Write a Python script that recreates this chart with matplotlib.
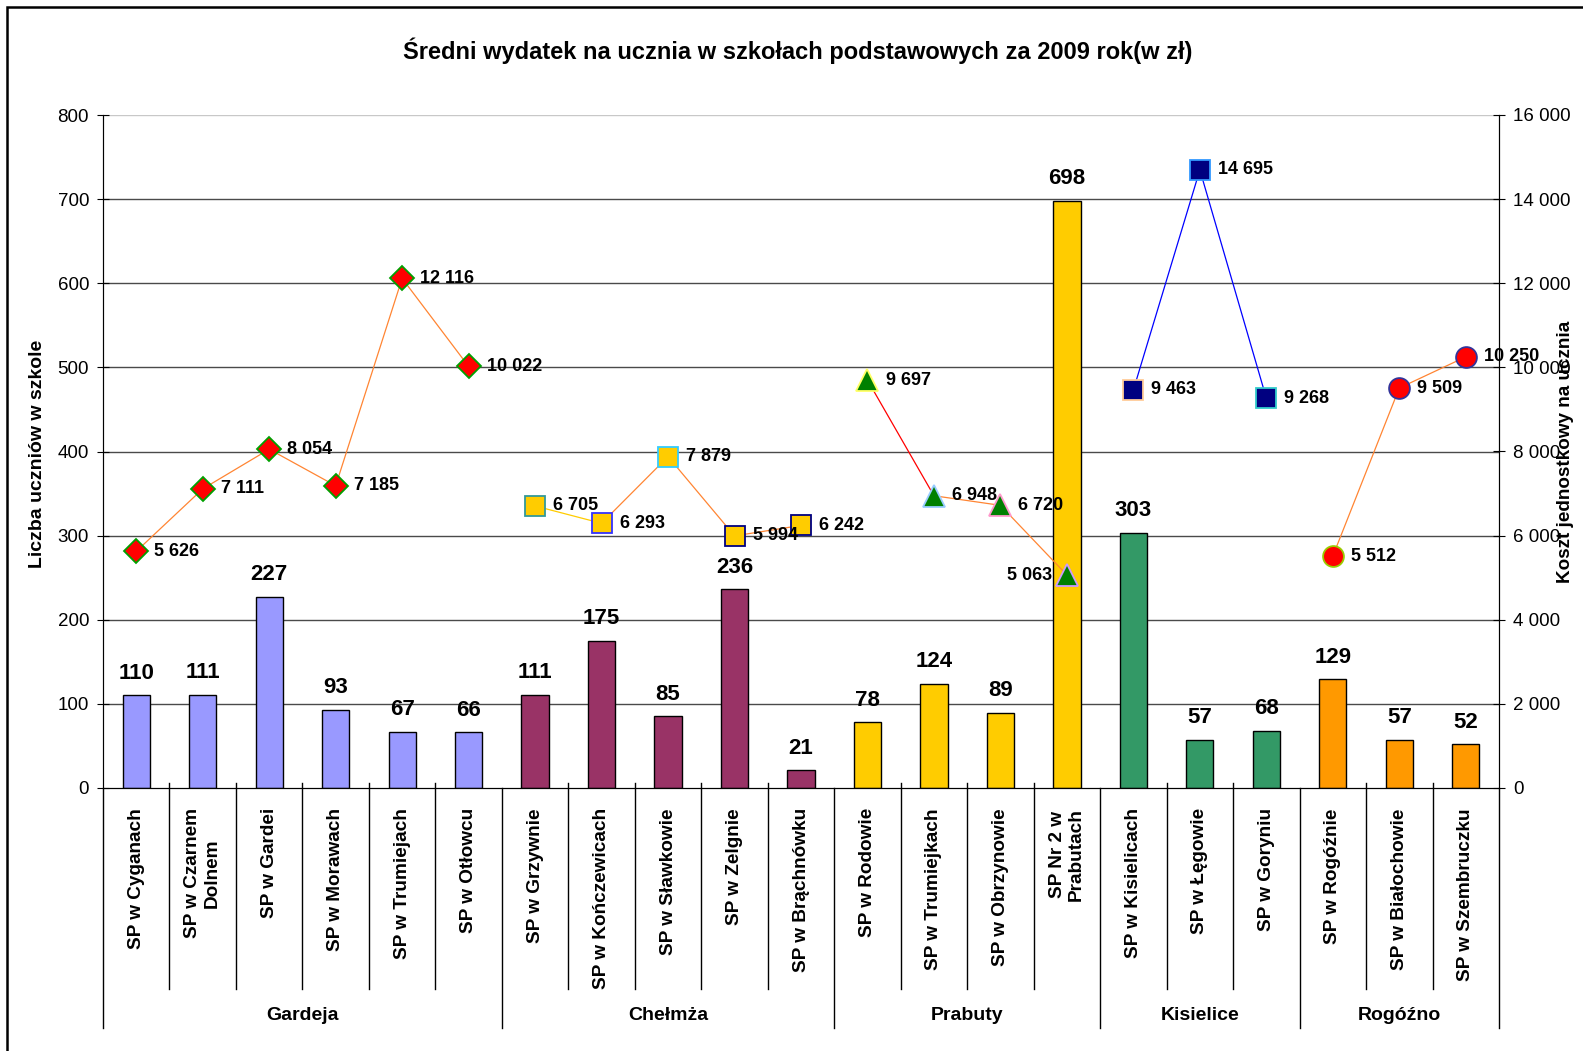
import matplotlib.pyplot as plt
from matplotlib.patches import Rectangle
from matplotlib.ticker import FuncFormatter
import matplotlib.transforms as mtransforms

plt.rcParams['font.family'] = ['Liberation Sans', 'DejaVu Sans']

# dane
schools = ['SP w Cyganach', 'SP w Czarnem\nDolnem', 'SP w Gardei', 'SP w Morawach', 'SP w Trumiejach',
           'SP w Otłowcu', 'SP w Grzywnie', 'SP w Kończewicach', 'SP w Sławkowie', 'SP w Zelgnie',
           'SP w Brąchnówku', 'SP w Rodowie', 'SP w Trumiejkach', 'SP w Obrzynowie', 'SP Nr 2 w\nPrabutach',
           'SP w Kisielicach', 'SP w Łęgowie', 'SP w Goryniu', 'SP w Rogóźnie', 'SP w Białochowie',
           'SP w Szembruczku']
students = [110, 111, 227, 93, 67, 66, 111, 175, 85, 236, 21, 78, 124, 89, 698, 303, 57, 68, 129, 57, 52]
cost = [5626, 7111, 8054, 7185, 12116, 10022, 6705, 6293, 7879, 5994, 6242,
        9697, 6948, 6720, 5063, 9463, 14695, 9268, 5512, 9509, 10250]
gminy = ['Gardeja', 'Chełmża', 'Prabuty', 'Kisielice', 'Rogóźno']
gmina_size = [6, 5, 4, 3, 3]

title = 'Średni wydatek na ucznia w szkołach podstawowych za 2009 rok(w zł)'

# wygląd
ORANGE = '#FF8533'
bar_colors = ['#9999FF', '#993366', '#FFCC00', '#339966', '#FF9900']
markers = ['D', 's', '^', 's', 'o']
msizes = [12, 15, 16, 15, 15]
face_colors = ['#FF0000', '#FFCC00', '#008000', '#000080', '#FF0000']
edge_colors = [['#00A000'] * 6,
               ['#339999', '#3333FF', '#33CCFF', '#000080', '#000080'],
               ['#FFFF66', '#99CCFF', '#FF99CC', '#CC99FF'],
               ['#FFCC99', '#3399FF', '#33CCCC'],
               ['#99CC00', '#333399', '#333399']]
seg_colors = [[ORANGE] * 5,
              ['#FFCC00', ORANGE, ORANGE, ORANGE],
              ['#FF0000', ORANGE, ORANGE],
              ['#0000FF', '#0000FF'],
              [ORANGE, ORANGE]]

W, H = 1583, 1051
fig = plt.figure(figsize=(W / 100, H / 100), dpi=100)
fig.patches.append(Rectangle((7 / W, -0.1), 1.2, 1 - 7 / H + 0.1, transform=fig.transFigure,
                             fill=False, edgecolor='black', linewidth=1.8))

ax = fig.add_axes([103 / W, 1 - 788 / H, (1499 - 103) / W, (788 - 115) / H])
ax2 = ax.twinx()

n = len(schools)
x = list(range(n))
group_of = []
for g, size in enumerate(gmina_size):
    group_of += [g] * size

ax.set_xlim(-0.5, n - 0.5)
ax.set_ylim(0, 800)
ax.set_yticks(range(0, 801, 100))
for v in range(100, 800, 100):
    ax.axhline(v, color='#4a4a4a', linewidth=1, zorder=0)
ax.axhline(800, color='#c8c8c8', linewidth=1, zorder=0)

ax.bar(x, students, width=0.41, color=[bar_colors[g] for g in group_of],
       edgecolor='black', linewidth=1, zorder=2)
for xi, s in zip(x, students):
    ax.annotate(str(s), (xi, s), xytext=(0, 16), textcoords='offset points',
                ha='center', va='center', fontsize=16, fontweight='bold')

ax.spines['top'].set_visible(False)
ax2.spines['top'].set_visible(False)
ax.spines['left'].set_color('#444444')
ax.tick_params(axis='y', direction='inout', length=8, pad=6, labelsize=13.5, colors='black')
ax.tick_params(axis='x', length=0, labelbottom=False)

# linie kosztu na prawej osi
ax2.set_ylim(0, 16000)
ax2.set_yticks(range(0, 16001, 2000))
ax2.yaxis.set_major_formatter(FuncFormatter(lambda v, _: f'{int(v):,}'.replace(',', ' ')))
ax2.tick_params(axis='y', direction='inout', length=8, pad=6, labelsize=13.5)

start = 0
for g, size in enumerate(gmina_size):
    xs = x[start:start + size]
    ys = cost[start:start + size]
    for i in range(size - 1):
        ax2.plot(xs[i:i + 2], ys[i:i + 2], color=seg_colors[g][i], linewidth=0.9, zorder=3)
    for i in range(size):
        ax2.plot(xs[i], ys[i], marker=markers[g], markersize=msizes[g], markerfacecolor=face_colors[g],
                 markeredgecolor=edge_colors[g][i], markeredgewidth=1.3, linestyle='none', zorder=4)
        label = f'{ys[i]:,}'.replace(',', ' ')
        if ys[i] == 5063:
            ax2.annotate(label, (xs[i], ys[i]), xytext=(-11, 0), textcoords='offset points',
                         ha='right', va='center', fontsize=13, fontweight='bold', zorder=5)
        else:
            ax2.annotate(label, (xs[i], ys[i]), xytext=(13, 0), textcoords='offset points',
                         ha='left', va='center', fontsize=13, fontweight='bold', zorder=5)
    start += size

# oś kategorii (dwa poziomy)
trans = mtransforms.blended_transform_factory(ax.transData, ax.transAxes)
for xi, name in zip(x, schools):
    ax.text(xi, -0.03, name, transform=trans, rotation=90, ha='center', va='top',
            multialignment='center', fontsize=13.7, fontweight='bold')
bounds = [-0.5]
for size in gmina_size:
    bounds.append(bounds[-1] + size)
for xb in range(1, n):
    if xb - 0.5 not in bounds:
        ax.plot([xb - 0.5, xb - 0.5], [0.008, -0.2987], transform=trans, color='black',
                linewidth=1, clip_on=False)
for xb in bounds:
    ax.plot([xb, xb], [0, -0.3566], transform=trans, color='black', linewidth=1, clip_on=False)
for g, name in enumerate(gminy):
    ax.text((bounds[g] + bounds[g + 1]) / 2, -0.3373, name, transform=trans, ha='center',
            va='center', fontsize=14, fontweight='bold')

fig.text(798 / W, 1 - 50.5 / H, title, ha='center', va='center', fontsize=17, fontweight='bold')
fig.text(38 / W, 1 - 454 / H, 'Liczba uczniów w szkole', rotation=90, ha='center', va='center',
         fontsize=14, fontweight='bold')
fig.text(1566 / W, 1 - 452 / H, 'Koszt jednostkowy na ucznia', rotation=90, ha='center', va='center',
         fontsize=13.6, fontweight='bold')

fig.savefig('out.png', dpi=100)
